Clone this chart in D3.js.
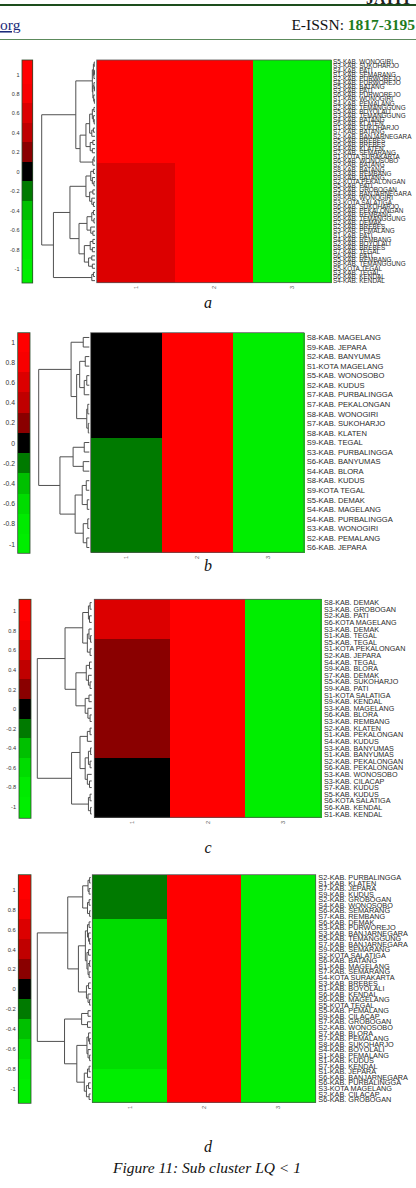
<!DOCTYPE html>
<html>
<head>
<meta charset="utf-8">
<script src="https://cdn.jsdelivr.net/npm/d3@7"></script>
<style>
  body { margin: 0; background: #fff; }
  svg { display: block; }
</style>
</head>
<body>
<svg id="fig" width="416" height="1188"></svg>
<script>
// clustergram colormap: one colour per 0.2 band
const bandValues = [-1, -0.8, -0.6, -0.4, -0.2, 0, 0.2, 0.4, 0.6, 0.8, 1];
const bandColors = ['#00ee00', '#00ea00', '#00dc00', '#00c000', '#007a00', '#000000',
                    '#8a0000', '#c00000', '#dc0000', '#f80000', '#ff0000'];
const cbTicks = [1, 0.8, 0.6, 0.4, 0.2, 0, -0.2, -0.4, -0.6, -0.8, -1];
const columns = ['1', '2', '3'];

// ---- panel a ----
const aLabels = [
  'S5-KAB. WONOGIRI', 'S3-KAB. SUKOHARJO', 'S4-KAB. PATI', 'S1-KAB. SEMARANG', 'S2-KAB. PURWOREJO',
  'S4-KAB. PURWOREJO', 'S5-KAB. BATANG', 'S3-KAB. PATI', 'S6-KAB. PURWOREJO', 'S1-KAB. WONOGIRI',
  'S4-KAB. PEMALANG', 'S2-KAB. TEMANGGUNG', 'S5-KAB. BOYOLALI', 'S3-KAB. TEMANGGUNG', 'S4-KAB. BATANG',
  'S6-KAB. KLATEN', 'S1-KAB. SUKOHARJO', 'S7-KAB. BATANG', 'S2-KAB. BANJARNEGARA', 'S5-KAB. BREBES',
  'S6-KAB. BREBES', 'S4-KAB. KLATEN', 'S2-KAB. SEMARANG', 'S1-KOTA SURAKARTA', 'S6-KAB. WONOSOBO',
  'S2-KAB. BATANG', 'S8-KAB. BATANG', 'S3-KAB. REMBANG', 'S9-KAB. BATANG', 'S2-KOTA PEKALONGAN',
  'S5-KAB. PATI', 'S5-KAB. GROBOGAN', 'S4-KAB. BANJARNEGARA', 'S9-KAB. WONOGIRI', 'S3-KOTA SALATIGA',
  'S6-KAB. SUKOHARJO', 'S5-KAB. PEKALONGAN', 'S6-KAB. REMBANG', 'S6-KAB. TEMANGGUNG', 'S2-KAB. DEMAK',
  'S2-KAB. BREBES', 'S3-KAB. PEMALANG', 'S1-KAB. PATI', 'S4-KAB. REMBANG', 'S2-KAB. BOYOLALI',
  'S8-KAB. BREBES', 'S7-KAB. TEGAL', 'S6-KAB. PATI', 'S5-KAB. REMBANG', 'S8-KAB. TEMANGGUNG',
  'S5-KOTA TEGAL', 'S3-KAB. TEGAL', 'S6-KAB. KENDAL', 'S4-KAB. KENDAL'
];
const aCol1 = [1, 1, 1, 1, 1, 1, 1, 1, 1, 1,  1, 1, 1, 1, 1, 1, 1, 1, 1, 1,  1, 1, 1, 1, 1,
  0.6, 0.6, 0.6, 0.6, 0.6, 0.6, 0.6, 0.6, 0.6, 0.6,  0.6, 0.6, 0.6, 0.6, 0.6, 0.6, 0.6, 0.6, 0.6, 0.6,
  0.6, 0.6, 0.6, 0.6, 0.6, 0.6, 0.6, 0.6, 0.6];
const aCol2 = [1, 1, 1, 1, 1, 1, 1, 1, 1, 1,  1, 1, 1, 1, 1, 1, 1, 1, 1, 1,  1, 1, 1, 1, 1, 1, 1, 1, 1, 1,
  1, 1, 1, 1, 1, 1, 1, 1, 1, 1,  1, 1, 1, 1, 1, 1, 1, 1, 1, 1,  1, 1, 1, 1];
const aCol3 = [-1, -1, -1, -1, -1, -1, -1, -1, -1, -1,  -1, -1, -1, -1, -1, -1, -1, -1, -1, -1,
  -1, -1, -1, -1, -1, -1, -1, -1, -1, -1,  -1, -1, -1, -1, -1, -1, -1, -1, -1, -1,
  -1, -1, -1, -1, -1, -1, -1, -1, -1, -1,  -1, -1, -1, -1];
// linkage tree: [height, left, right], leaves are row indices
const aTree = [1.0,
  [0.36,
    [0.05, [0.03, [0.015, 0, 1], [0.02, [0.01, 2, 3], 4]], [0.04, [0.02, 5, [0.01, 6, 7]], [0.025, 8, [0.012, 9, 10]]]],
    [0.28,
      [0.17, [0.1, [0.05, [0.02, 11, 12], [0.03, 13, [0.015, 14, 15]]], [0.06, [0.03, 16, 17], 18]],
             [0.09, [0.04, 19, 20], [0.05, 21, 22]]],
      [0.04, [0.02, 23, 24], 25]]],
  [0.78,
    [0.47,
      [0.17, [0.08, [0.03, 26, 27], [0.05, 28, [0.02, 29, 30]]], [0.1, [0.04, 31, 32], [0.06, 33, [0.03, 34, 35]]]],
      [0.3, [0.15, [0.06, [0.03, 36, 37], [0.02, 38, 39]], [0.08, 40, [0.04, 41, 42]]],
            [0.2, [0.09, [0.04, 43, 44], [0.05, 45, 46]], [0.12, [0.06, 47, 48], [0.05, 49, 50]]]]],
    [0.06, [0.03, 51, 52], 53]]];

// ---- panel b ----
const bLabels = [
  'S8-KAB. MAGELANG', 'S9-KAB. JEPARA', 'S2-KAB. BANYUMAS', 'S1-KOTA MAGELANG', 'S5-KAB. WONOSOBO',
  'S2-KAB. KUDUS', 'S7-KAB. PURBALINGGA', 'S7-KAB. PEKALONGAN', 'S8-KAB. WONOGIRI', 'S7-KAB. SUKOHARJO',
  'S8-KAB. KLATEN', 'S9-KAB. TEGAL', 'S3-KAB. PURBALINGGA', 'S6-KAB. BANYUMAS', 'S4-KAB. BLORA',
  'S8-KAB. KUDUS', 'S9-KOTA TEGAL', 'S5-KAB. DEMAK', 'S4-KAB. MAGELANG', 'S4-KAB. PURBALINGGA',
  'S3-KAB. WONOGIRI', 'S2-KAB. PEMALANG', 'S6-KAB. JEPARA'
];
const bCol1 = [0, 0, 0, 0, 0, 0, 0, 0, 0, 0, 0,
  -0.2, -0.2, -0.2, -0.2, -0.2, -0.2, -0.2, -0.2, -0.2, -0.2, -0.2, -0.2];
const bCol2 = [1, 1, 1, 1, 1, 1, 1, 1, 1, 1,  1, 1, 1, 1, 1, 1, 1, 1, 1, 1,  1, 1, 1];
const bCol3 = [-1, -1, -1, -1, -1, -1, -1, -1, -1, -1,  -1, -1, -1, -1, -1, -1, -1, -1, -1, -1,  -1, -1, -1];
const bTree = [1.0,
  [0.36, [0.12, 0, 1],
    [0.25, [0.19, [0.08, 2, 3], [0.1, [0.05, 4, 5], 6]], [0.05, [0.03, 7, 8], [0.02, 9, 10]]]],
  [0.58, [0.32, [0.1, 11, 12], [0.12, 13, 14]],
    [0.28, [0.14, [0.06, 15, 16], [0.04, 17, 18]], [0.12, [0.03, 19, 20], [0.05, 21, 22]]]]];

// ---- panel c ----
const cLabels = [
  'S8-KAB. DEMAK', 'S3-KAB. GROBOGAN', 'S2-KAB. PATI', 'S6-KOTA MAGELANG', 'S3-KAB. DEMAK',
  'S1-KAB. TEGAL', 'S5-KAB. TEGAL', 'S1-KOTA PEKALONGAN', 'S2-KAB. JEPARA', 'S4-KAB. TEGAL',
  'S9-KAB. BLORA', 'S7-KAB. DEMAK', 'S5-KAB. SUKOHARJO', 'S9-KAB. PATI', 'S1-KOTA SALATIGA',
  'S9-KAB. KENDAL', 'S3-KAB. MAGELANG', 'S6-KAB. BLORA', 'S3-KAB. REMBANG', 'S2-KAB. KLATEN',
  'S1-KAB. PEKALONGAN', 'S4-KAB. KUDUS', 'S3-KAB. BANYUMAS', 'S1-KAB. BANYUMAS', 'S2-KAB. PEKALONGAN',
  'S6-KAB. PEKALONGAN', 'S3-KAB. WONOSOBO', 'S3-KAB. CILACAP', 'S7-KAB. KUDUS', 'S5-KAB. KUDUS',
  'S6-KOTA SALATIGA', 'S6-KAB. KENDAL', 'S1-KAB. KENDAL'
];
const cCol1 = [0.6, 0.6, 0.6, 0.6, 0.6, 0.6,
  0.2, 0.2, 0.2, 0.2, 0.2, 0.2, 0.2, 0.2, 0.2, 0.2, 0.2, 0.2, 0.2, 0.2, 0.2, 0.2, 0.2, 0.2,
  0, 0, 0, 0, 0, 0, 0, 0, 0];
const cCol2 = [1, 1, 1, 1, 1, 1, 1, 1, 1, 1,  1, 1, 1, 1, 1, 1, 1, 1, 1, 1,  1, 1, 1, 1, 1, 1, 1, 1, 1, 1,  1, 1, 1];
const cCol3 = [-1, -1, -1, -1, -1, -1, -1, -1, -1, -1,  -1, -1, -1, -1, -1, -1, -1, -1, -1, -1,
  -1, -1, -1, -1, -1, -1, -1, -1, -1, -1,  -1, -1, -1];
const cTree = [1.0,
  [0.49,
    [0.165, [0.06, [0.03, 0, 1], [0.04, 2, 3]], [0.08, [0.05, 4, [0.02, 5, 6]], [0.03, 7, 8]]],
    [0.29, [0.1, [0.04, 9, 10], [0.06, 11, [0.03, 12, 13]]], [0.12, [0.05, 14, 15], [0.07, 16, [0.03, 17, 18]]]]],
  [0.37,
    [0.215, [0.08, [0.03, 19, 20], 21],
      [0.12, [0.06, [0.02, 22, 23], [0.03, 24, 25]], [0.08, 26, [0.04, 27, 28]]]],
    [0.06, [0.03, 29, 30], [0.02, 31, 32]]]];

// ---- panel d ----
const dLabels = [
  'S2-KAB. PURBALINGGA', 'S1-KAB. KLATEN', 'S7-KAB. JEPARA', 'S9-KAB. KUDUS', 'S2-KAB. GROBOGAN',
  'S4-KAB. WONOSOBO', 'S6-KAB. SEMARANG', 'S7-KAB. REMBANG', 'S6-KAB. DEMAK', 'S3-KAB. PURWOREJO',
  'S3-KAB. BANJARNEGARA', 'S5-KAB. TEMANGGUNG', 'S7-KAB. BANJARNEGARA', 'S9-KAB. SEMARANG', 'S2-KOTA SALATIGA',
  'S6-KAB. BATANG', 'S1-KAB. MAGELANG', 'S7-KAB. SEMARANG', 'S4-KOTA SURAKARTA', 'S3-KAB. BREBES',
  'S1-KAB. BOYOLALI', 'S6-KAB. KENDAL', 'S6-KAB. MAGELANG', 'S5-KOTA TEGAL', 'S5-KAB. PEMALANG',
  'S9-KAB. CILACAP', 'S7-KAB. GROBOGAN', 'S2-KAB. WONOSOBO', 'S7-KAB. BLORA', 'S7-KAB. PEMALANG',
  'S8-KAB. SUKOHARJO', 'S4-KAB. BOYOLALI', 'S1-KAB. PEMALANG', 'S1-KAB. KUDUS', 'S7-KAB. KENDAL',
  'S1-KAB. JEPARA', 'S6-KAB. BANJARNEGARA', 'S6-KAB. PURBALINGGA', 'S3-KOTA MAGELANG', 'S2-KAB. CILACAP',
  'S6-KAB. GROBOGAN'
];
const dCol1 = [-0.2, -0.2, -0.2, -0.2, -0.2, -0.2, -0.2, -0.2,
  -0.6, -0.6, -0.6, -0.6, -0.6, -0.6, -0.6, -0.6, -0.6, -0.6, -0.6, -0.6, -0.6, -0.6,
  -0.6, -0.6, -0.6, -0.6, -0.6, -0.6, -0.6, -0.6, -0.6, -0.6, -0.6, -0.6, -0.6,
  -1, -1, -1, -1, -1, -1];
const dCol2 = [1, 1, 1, 1, 1, 1, 1, 1, 1, 1,  1, 1, 1, 1, 1, 1, 1, 1, 1, 1,
  1, 1, 1, 1, 1, 1, 1, 1, 1, 1,  1, 1, 1, 1, 1, 1, 1, 1, 1, 1,  1];
const dCol3 = [-1, -1, -1, -1, -1, -1, -1, -1, -1, -1,  -1, -1, -1, -1, -1, -1, -1, -1, -1, -1,
  -1, -1, -1, -1, -1, -1, -1, -1, -1, -1,  -1, -1, -1, -1, -1, -1, -1, -1, -1, -1,  -1];
const dTree = [1.0,
  [0.43,
    [0.15, [0.05, [0.02, 0, 1], [0.03, 2, 3]], [0.06, [0.03, 4, 5], [0.02, 6, 7]]],
    [0.23,
      [0.1, [0.06, [0.03, 8, 9], [0.04, 10, [0.02, 11, 12]]],
            [0.07, [0.04, 13, 14], [0.05, [0.02, 15, 16], [0.03, 17, 18]]]],
      [0.08, [0.04, 19, 20], [0.05, 21, [0.02, 22, 23]]]]],
  [0.49,
    [0.17, [0.05, 24, 25], [0.06, 26, 27]],
    [0.26,
      [0.07, [0.04, 28, [0.02, 29, 30]], [0.05, 31, [0.02, 32, 33]]],
      [0.12, [0.06, [0.03, 34, 35], 36], [0.08, [0.04, 37, 38], [0.03, 39, 40]]]]]];

// layout of the four sub-figures
const panels = [
  { name: 'a', labels: aLabels, values: [aCol1, aCol2, aCol3], tree: aTree,
    top: 60, bottom: 282.7, heatLeft: 96.7, heatRight: 331, labelX: 333, labelSize: 6.4,
    cbLeft: 22, cbRight: 32.7, cbTop: 60, cbBottom: 283, lim: 1.147, tickX: 19.5, tickSize: 5.5,
    rootX: 41.7, leafX: 95, colLabelY: 286, letterY: 308 },
  { name: 'b', labels: bLabels, values: [bCol1, bCol2, bCol3], tree: bTree,
    top: 332.7, bottom: 552.3, heatLeft: 90.7, heatRight: 304, labelX: 306.7, labelSize: 7.6,
    cbLeft: 17.7, cbRight: 30, cbTop: 332.7, cbBottom: 553.3, lim: 1.092, tickX: 15, tickSize: 6.8,
    rootX: 38.7, leafX: 89.3, colLabelY: 556, letterY: 571 },
  { name: 'c', labels: cLabels, values: [cCol1, cCol2, cCol3], tree: cTree,
    top: 599.3, bottom: 817.3, heatLeft: 94.3, heatRight: 321, labelX: 324, labelSize: 7.2,
    cbLeft: 19, cbRight: 31, cbTop: 599.3, cbBottom: 818.3, lim: 1.12, tickX: 16, tickSize: 5.6,
    rootX: 37.3, leafX: 91.7, colLabelY: 821, letterY: 853 },
  { name: 'd', labels: dLabels, values: [dCol1, dCol2, dCol3], tree: dTree,
    top: 874.7, bottom: 1102.3, heatLeft: 92.3, heatRight: 315.7, labelX: 318.3, labelSize: 7.3,
    cbLeft: 18.3, cbRight: 31, cbTop: 874.7, cbBottom: 1103.3, lim: 1.148, tickX: 15.7, tickSize: 5.8,
    rootX: 37.3, leafX: 90.7, colLabelY: 1106, letterY: 1152 }
];

const svg = d3.select('#fig');
const SANS = 'Liberation Sans, Arial, sans-serif';
const SERIF = 'Liberation Serif, Times New Roman, serif';

// page header
svg.append('text').attr('x', 412).attr('y', 4).attr('text-anchor', 'end')
  .style('font', `bold 16px ${SERIF}`).attr('fill', '#222').text('JATIT');
svg.append('line').attr('x1', 0).attr('x2', 416).attr('y1', 5).attr('y2', 5)
  .attr('stroke', '#1d4d1d').attr('stroke-width', 2);
svg.append('text').attr('x', 0).attr('y', 30)
  .style('font', `15.5px ${SERIF}`).attr('fill', '#1a2a7a')
  .attr('text-decoration', 'underline').text('org');
const issn = svg.append('text').attr('x', 415).attr('y', 30).attr('text-anchor', 'end')
  .style('font', `15.5px ${SERIF}`);
issn.append('tspan').attr('fill', '#111').text('E-ISSN: ');
issn.append('tspan').attr('fill', '#1e7b1e').attr('font-weight', 'bold').text('1817-3195');
svg.append('line').attr('x1', 0).attr('x2', 416).attr('y1', 39.5).attr('y2', 39.5)
  .attr('stroke', '#5c8a5c').attr('stroke-width', 1);

const color = d3.scaleThreshold()
  .domain(d3.pairs(bandValues, (a, b) => (a + b) / 2))
  .range(bandColors);

function drawPanel(p) {
  const g = svg.append('g').attr('class', 'panel-' + p.name);
  const n = p.labels.length;
  const y = d3.scaleBand().domain(d3.range(n)).range([p.top, p.bottom]);
  const x = d3.scaleBand().domain(columns).range([p.heatLeft, p.heatRight]);

  // heatmap cells
  const cells = [];
  columns.forEach((c, ci) => p.values[ci].forEach((v, ri) => cells.push({ c, ri, v })));
  g.selectAll('rect.cell')
    .data(cells)
    .join('rect')
    .attr('class', 'cell')
    .attr('x', d => x(d.c))
    .attr('y', d => y(d.ri))
    .attr('width', x.bandwidth() + 0.5)
    .attr('height', y.bandwidth() + 0.5)
    .attr('fill', d => color(d.v))
    .attr('shape-rendering', 'crispEdges');
  g.append('rect')
    .attr('x', p.heatLeft).attr('y', p.top)
    .attr('width', p.heatRight - p.heatLeft).attr('height', p.bottom - p.top)
    .attr('fill', 'none').attr('stroke', '#555').attr('stroke-width', 0.8);

  // row labels
  g.selectAll('text.row')
    .data(p.labels)
    .join('text')
    .attr('class', 'row')
    .attr('x', p.labelX)
    .attr('y', (d, i) => y(i) + y.bandwidth() / 2)
    .attr('dy', '0.36em')
    .style('font', `${p.labelSize}px ${SANS}`)
    .attr('fill', '#2a2a2a')
    .text(d => d);

  // column labels, rotated
  g.selectAll('text.col')
    .data(columns)
    .join('text')
    .attr('class', 'col')
    .attr('transform', d => `translate(${x(d) + x.bandwidth() / 2 + 2},${p.colLabelY}) rotate(-90)`)
    .attr('text-anchor', 'end')
    .style('font', `5.5px ${SANS}`)
    .attr('fill', '#555')
    .text(d => d);

  // dendrogram
  const dx = d3.scaleLinear().domain([0, p.tree[0]]).range([p.leafX, p.rootX]);
  const path = d3.path();
  function walk(node) {
    if (typeof node === 'number') return { y: y(node) + y.bandwidth() / 2, h: 0 };
    const [h, l, r] = node;
    const a = walk(l), b = walk(r);
    path.moveTo(dx(a.h), a.y);
    path.lineTo(dx(h), a.y);
    path.lineTo(dx(h), b.y);
    path.lineTo(dx(b.h), b.y);
    return { y: (a.y + b.y) / 2, h };
  }
  walk(p.tree);
  g.append('path')
    .attr('d', path.toString())
    .attr('fill', 'none')
    .attr('stroke', '#505050')
    .attr('stroke-width', 1);

  // colour bar
  const cy = d3.scaleLinear().domain([-p.lim, p.lim]).range([p.cbBottom, p.cbTop]);
  g.selectAll('rect.band')
    .data(bandValues)
    .join('rect')
    .attr('class', 'band')
    .attr('x', p.cbLeft)
    .attr('width', p.cbRight - p.cbLeft)
    .attr('y', (v, i) => cy(i === bandValues.length - 1 ? p.lim : v + 0.1))
    .attr('height', (v, i) => cy(i === 0 ? -p.lim : v - 0.1) - cy(i === bandValues.length - 1 ? p.lim : v + 0.1))
    .attr('fill', v => color(v))
    .attr('shape-rendering', 'crispEdges');
  g.append('rect')
    .attr('x', p.cbLeft).attr('y', p.cbTop)
    .attr('width', p.cbRight - p.cbLeft).attr('height', p.cbBottom - p.cbTop)
    .attr('fill', 'none').attr('stroke', '#2b4a2b').attr('stroke-width', 0.8);

  const axis = g.append('g')
    .attr('transform', `translate(${p.cbLeft},0)`)
    .call(d3.axisLeft(cy).tickValues(cbTicks).tickSize(0)
      .tickPadding(p.cbLeft - p.tickX).tickFormat(d => String(d)));
  axis.select('.domain').remove();
  axis.selectAll('text')
    .style('font', `${p.tickSize}px ${SANS}`)
    .attr('fill', '#333');

  // sub-figure letter
  svg.append('text')
    .attr('x', 208).attr('y', p.letterY)
    .attr('text-anchor', 'middle')
    .style('font', `italic 16px ${SERIF}`)
    .attr('fill', '#111')
    .text(p.name);
}

panels.forEach(drawPanel);

svg.append('text')
  .attr('x', 207).attr('y', 1173)
  .attr('text-anchor', 'middle')
  .style('font', `italic 15.5px ${SERIF}`)
  .attr('fill', '#111')
  .text('Figure 11: Sub cluster LQ < 1');
</script>
</body>
</html>
